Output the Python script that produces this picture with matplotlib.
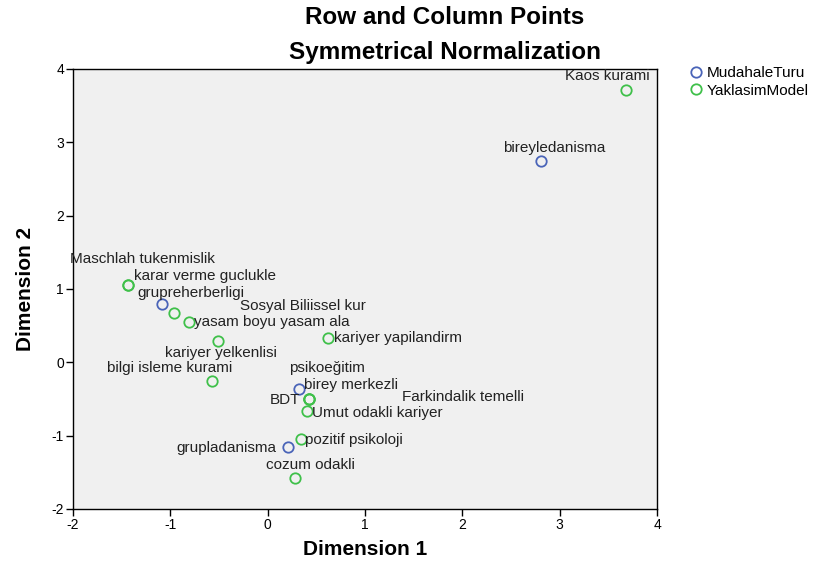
import matplotlib.pyplot as plt

plt.rcParams['font.family'] = ['Liberation Sans', 'DejaVu Sans']
plt.rcParams['axes.unicode_minus'] = False

# Row points (MudahaleTuru)
mud_labels = ['bireyledanisma', 'grupreherberligi', 'psikoeğitim', 'grupladanisma']
mud_x = [2.81, -1.09, 0.32, 0.21]
mud_y = [2.74, 0.79, -0.37, -1.16]

# Column points (YaklasimModel)
yak_labels = ['Kaos kurami', 'Maschlah tukenmislik', 'karar verme guclukle',
              'Sosyal Biliissel kur', 'yasam boyu yasam ala', 'kariyer yelkenlisi',
              'kariyer yapilandirm', 'bilgi isleme kurami', 'birey merkezli', 'BDT',
              'Farkindalik temelli', 'Umut odakli kariyer', 'pozitif psikoloji',
              'cozum odakli']
yak_x = [3.68, -1.43, -1.43, -0.96, -0.81, -0.51, 0.62, -0.57, 0.42, 0.42,
         0.42, 0.40, 0.34, 0.28]
yak_y = [3.71, 1.06, 1.06, 0.67, 0.55, 0.29, 0.33, -0.26, -0.50, -0.50,
         -0.50, -0.67, -1.04, -1.58]

# label offsets in pixels (left edge of text, vertical centre)
mud_off = [(-38, 13), (-24, 11), (-10, 21), (-112, -1)]
yak_off = [(-61, 14), (-58, 26), (6, 9), (66, 7), (5, 0), (-53, -12), (6, 0),
           (-105, 13), (-5, 14), (-39, -1), (93, 2), (5, -2), (4, -1), (-29, 13)]

blue = '#4A64B8'
green = '#3FC04A'

fig = plt.figure(figsize=(8.16, 5.62), dpi=100)
ax = fig.add_axes([73 / 816, 53 / 562, 584 / 816, 440 / 562])
ax.set_facecolor('#F0F0F0')

ax.plot(mud_x, mud_y, 'o', ls='none', mfc='none', mec=blue, ms=7.5, mew=1.3,
        label='MudahaleTuru', clip_on=False)
ax.plot(yak_x, yak_y, 'o', ls='none', mfc='none', mec=green, ms=7.5, mew=1.3,
        label='YaklasimModel', clip_on=False)

for lab, x, y, off in zip(mud_labels, mud_x, mud_y, mud_off):
    ax.annotate(lab, (x, y), xytext=off, textcoords='offset pixels',
                ha='left', va='center', fontsize=11, color='#222222',
                annotation_clip=False)
for lab, x, y, off in zip(yak_labels, yak_x, yak_y, yak_off):
    t = ax.annotate(lab, (x, y), xytext=off, textcoords='offset pixels',
                    ha='left', va='center', fontsize=11, color='#222222')
    t.set_clip_on(True)

ax.set_xlim(-2, 4)
ax.set_ylim(-2, 4)
ax.set_xticks(range(-2, 5))
ax.set_yticks(range(-2, 5))
ax.tick_params(direction='out', length=5, width=1, labelsize=10, pad=1.5)
for s in ax.spines.values():
    s.set_linewidth(1)

ax.set_xlabel('Dimension 1', fontsize=15, fontweight='bold', labelpad=6)
ax.set_ylabel('Dimension 2', fontsize=15, fontweight='bold', labelpad=12)

fig.text(445 / 816, 1 - 17 / 562, 'Row and Column Points', ha='center', va='center',
         fontsize=17.5, fontweight='bold')
fig.text(445 / 816, 1 - 52 / 562, 'Symmetrical Normalization', ha='center', va='center',
         fontsize=17.5, fontweight='bold')

fig.legend(loc='upper left', bbox_to_anchor=(690 / 816, 1 - 66 / 562), frameon=False,
           fontsize=11, handlelength=0.8, handletextpad=0.3, borderpad=0,
           labelspacing=0.25, borderaxespad=0)

fig.savefig('out.png', dpi=100)
